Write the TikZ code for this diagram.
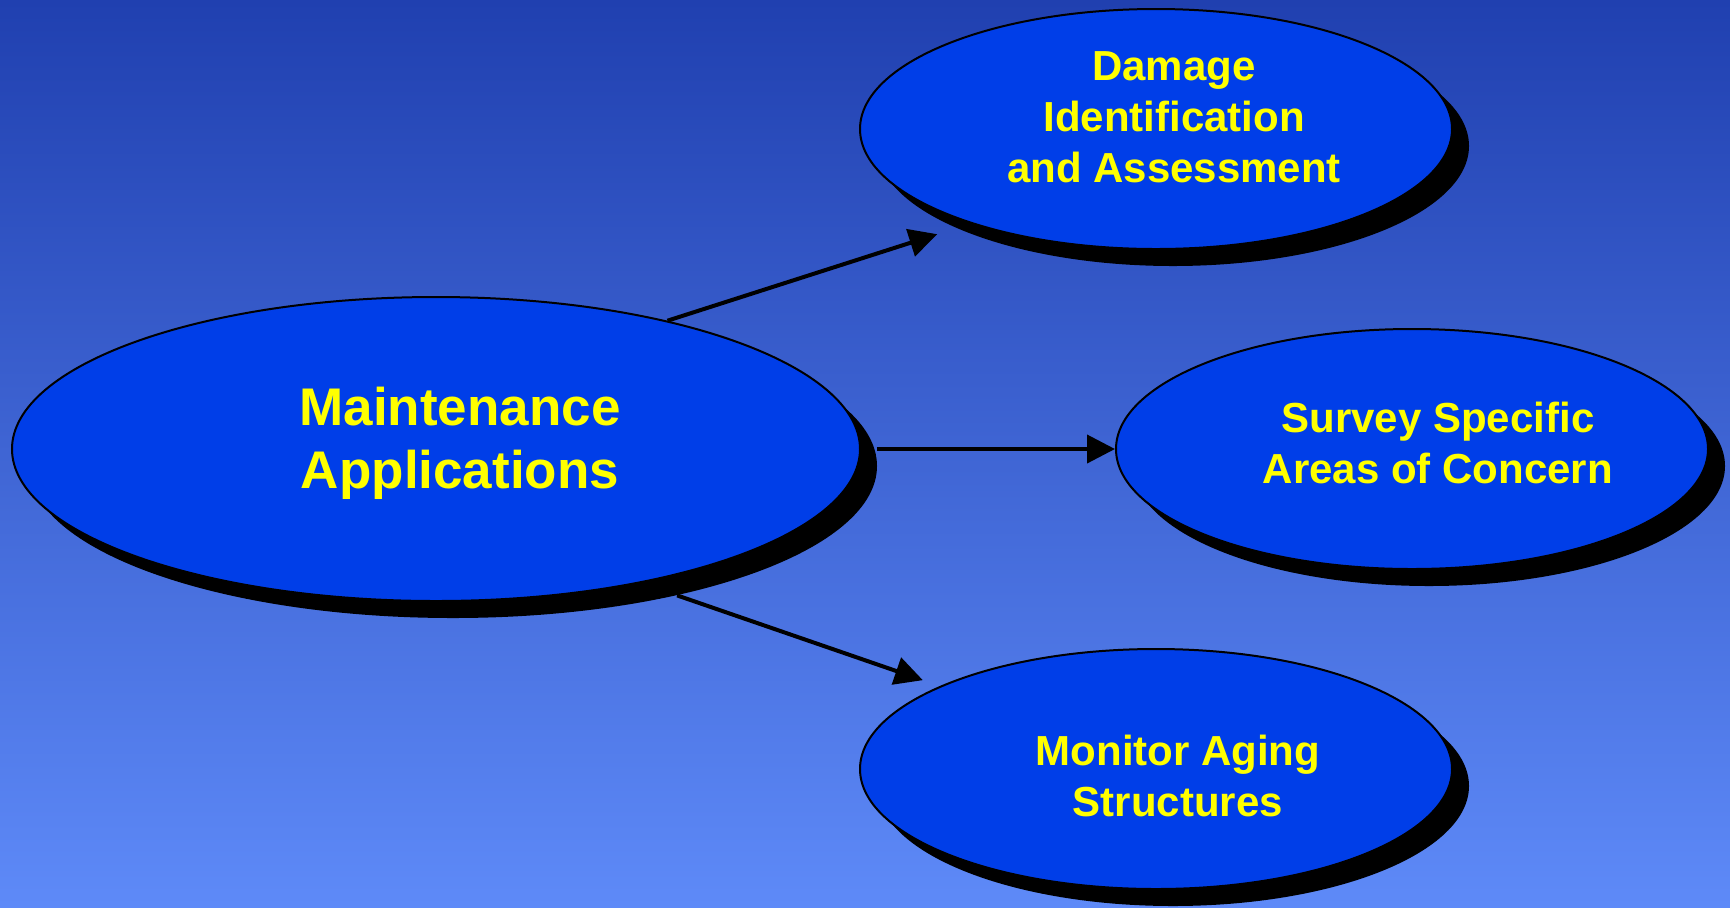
\documentclass[tikz,border=0pt]{standalone}
\usepackage{fontspec}
\setmainfont{Liberation Sans}
\usetikzlibrary{shapes.geometric,arrows.meta}
\definecolor{bgtop}{HTML}{2040B0}
\definecolor{bgbot}{HTML}{5E8AF8}
\definecolor{bubblefill}{HTML}{003EE8}
\definecolor{txtyellow}{HTML}{FFFF00}
\tikzset{
  bubble/.style={ellipse,draw=black,line width=1pt,fill=bubblefill,inner sep=0pt},
  bubblesh/.style={ellipse,fill=black,inner sep=0pt},
  bigtxt/.style={align=center,text=txtyellow,font=\bfseries\fontsize{26.5}{31.5}\selectfont},
  smalltxt/.style={align=center,text=txtyellow,font=\bfseries\fontsize{21}{25.5}\selectfont},
  link/.style={line width=2pt,-{Triangle[length=14pt,width=14pt]}}
}
\begin{document}
\begin{tikzpicture}[x=0.5pt,y=-0.5pt]
      \shade[top color=bgtop,bottom color=bgbot] (0,0) rectangle (1730,907);
      \useasboundingbox (0,0) rectangle (1730,907);
      % shadows
      \node[bubblesh,minimum width=424pt,minimum height=152pt] (mainsh) at (453,466) {};
      \node[bubblesh,minimum width=296pt,minimum height=120pt] (dmgsh) at (1173,146) {};
      \node[bubblesh,minimum width=296pt,minimum height=120pt] (srvsh) at (1429,466) {};
      \node[bubblesh,minimum width=296pt,minimum height=120pt] (monsh) at (1173,786) {};
      % ellipses
      \node[bubble,minimum width=424pt,minimum height=152pt] (main) at (436,449) {};
      \node[bubble,minimum width=296pt,minimum height=120pt] (dmg) at (1156,129) {};
      \node[bubble,minimum width=296pt,minimum height=120pt] (srv) at (1412,449) {};
      \node[bubble,minimum width=296pt,minimum height=120pt] (mon) at (1156,769) {};
      % texts
      \node[bigtxt] (main-t) at (460,443) {Maintenance\\Applications};
      \node[smalltxt] (dmg-t) at (1174,117) {Damage\\Identification\\and Assessment};
      \node[smalltxt] (srv-t) at (1438,443) {Survey Specific\\Areas of Concern};
      \node[smalltxt] (mon-t) at (1178,776) {Monitor Aging\\Structures};
      % arrows
      \draw[link,shorten >=17.5pt] (main.29.5) -- (dmg.207);
      \draw[link] (mainsh.east |- main.east) -- (srv.west);
      \draw[link,shorten >=9pt] (mainsh.-30.3) -- (mon.159.3);
    \end{tikzpicture}
\end{document}
